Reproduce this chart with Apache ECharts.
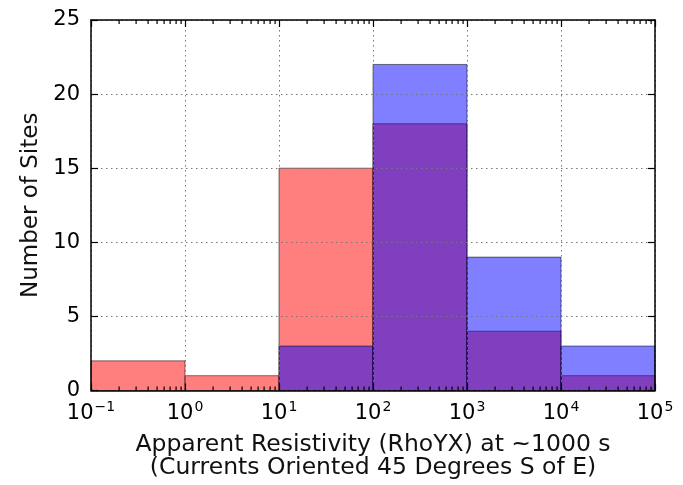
<!DOCTYPE html>
<html>
<head>
<meta charset="utf-8">
<script src="https://cdn.jsdelivr.net/npm/echarts@6/dist/echarts.min.js"></script>
<style>html,body{margin:0;padding:0;background:#fff;}#c{width:683px;height:485px;}</style>
</head>
<body>
<div id="c"></div>
<script>
// Bin edges (Ohm-m), log-spaced decades
var binEdges = [0.1, 1, 10, 100, 1000, 10000, 100000];
// Counts per bin
var redCounts  = [2, 1, 15, 18, 4, 1];
var blueCounts = [0, 0, 3, 22, 9, 3];
var yTicks = [0, 5, 10, 15, 20, 25];
var xTickExponents = [-1, 0, 1, 2, 3, 4, 5];

var FONT = 'DejaVu Sans';

function binData(counts) {
  var d = [];
  for (var i = 0; i < counts.length; i++) {
    d.push([Math.log10(binEdges[i]), Math.log10(binEdges[i + 1]), counts[i]]);
  }
  return d;
}

var yMin = yTicks[0], yMax = yTicks[yTicks.length - 1];
var xMin = xTickExponents[0], xMax = xTickExponents[xTickExponents.length - 1];

// minor tick positions at k*10^n (k=2..9), in log10 space
var minorBottom = [], minorTop = [];
for (var n = 0; n < binEdges.length - 1; n++) {
  for (var k = 2; k <= 9; k++) {
    var lx = Math.log10(k * binEdges[n]);
    minorBottom.push([lx, yMin]);
    minorTop.push([lx, yMax]);
  }
}

function barRender(fill) {
  return function (params, api) {
    var p0 = api.coord([api.value(0), api.value(2)]);
    var p1 = api.coord([api.value(1), 0]);
    if (api.value(2) <= 0) return null;
    return {
      type: 'rect',
      shape: { x: p0[0], y: p0[1], width: p1[0] - p0[0], height: p1[1] - p0[1] },
      style: { fill: fill, stroke: 'rgba(0,0,0,0.5)', lineWidth: 1 }
    };
  };
}

function tickRender(up) {
  return function (params, api) {
    var p = api.coord([api.value(0), api.value(1)]);
    return {
      type: 'rect',
      shape: { x: Math.round(p[0]) - 0.5, y: up ? p[1] - 4 : p[1], width: 1.2, height: 4 },
      style: { fill: '#000' }
    };
  };
}

var chart = echarts.init(document.getElementById('c'), null, { renderer: 'canvas' });

var axisLineStyle = { color: '#000', width: 1.5 };
var gridLine = { show: true, lineStyle: { color: '#777', width: 1, type: [1.5, 3.5] } };
var majorTick = { show: true, inside: true, length: 7, lineStyle: { color: '#000', width: 1.2 } };

chart.setOption({
  animation: false,
  backgroundColor: '#fff',
  grid: { left: 91, top: 20, right: 28, bottom: 93, containLabel: false },
  xAxis: [{
    type: 'value', min: xMin, max: xMax, interval: 1, position: 'bottom', z: 5,
    axisLine: { show: true, onZero: false, lineStyle: axisLineStyle },
    axisTick: majorTick,
    splitLine: gridLine,
    axisLabel: {
      margin: 8,
      formatter: function (v) {
        var e = Math.round(v);
        return '{b|10}{s|' + (e < 0 ? '\u2212' + (-e) : e) + '}';
      },
      rich: {
        b: { fontFamily: FONT, fontSize: 21, color: '#000', lineHeight: 26, verticalAlign: 'bottom' },
        s: { fontFamily: FONT, fontSize: 14, color: '#000', lineHeight: 14, verticalAlign: 'bottom', padding: [0, 0, 10, 1] }
      }
    },
    name: 'Apparent Resistivity (RhoYX) at ~1000 s\n(Currents Oriented 45 Degrees S of E)',
    nameLocation: 'middle', nameGap: 43,
    nameTextStyle: { fontFamily: FONT, fontSize: 23.5, color: '#111', lineHeight: 23 }
  }, {
    type: 'value', min: xMin, max: xMax, interval: 1, position: 'top', z: 5,
    axisLine: { show: true, onZero: false, lineStyle: axisLineStyle },
    axisTick: majorTick,
    splitLine: { show: false }, axisLabel: { show: false }
  }],
  yAxis: [{
    type: 'value', min: yMin, max: yMax, interval: 5, position: 'left', z: 5,
    axisLine: { show: true, onZero: false, lineStyle: axisLineStyle },
    axisTick: majorTick,
    splitLine: gridLine,
    axisLabel: { margin: 11, fontFamily: FONT, fontSize: 21, color: '#000' },
    name: 'Number of Sites', nameLocation: 'middle', nameGap: 46, nameRotate: 90,
    nameTextStyle: { fontFamily: FONT, fontSize: 23, color: '#111' }
  }, {
    type: 'value', min: yMin, max: yMax, interval: 5, position: 'right', z: 5,
    axisLine: { show: true, onZero: false, lineStyle: axisLineStyle },
    axisTick: majorTick,
    splitLine: { show: false }, axisLabel: { show: false }
  }],
  series: [{
    type: 'custom', name: 'red', xAxisIndex: 0, yAxisIndex: 0, z: 1,
    renderItem: barRender('rgba(255,0,0,0.5)'),
    encode: { x: [0, 1], y: 2 },
    data: binData(redCounts)
  }, {
    type: 'custom', name: 'blue', xAxisIndex: 0, yAxisIndex: 0, z: 1,
    renderItem: barRender('rgba(0,0,255,0.5)'),
    encode: { x: [0, 1], y: 2 },
    data: binData(blueCounts)
  }, {
    type: 'custom', name: 'minorTicksBottom', xAxisIndex: 0, yAxisIndex: 0, z: 10, silent: true,
    renderItem: tickRender(true),
    encode: { x: 0, y: 1 },
    data: minorBottom
  }, {
    type: 'custom', name: 'minorTicksTop', xAxisIndex: 0, yAxisIndex: 0, z: 10, silent: true,
    renderItem: tickRender(false),
    encode: { x: 0, y: 1 },
    data: minorTop
  }]
});
</script>
</body>
</html>
